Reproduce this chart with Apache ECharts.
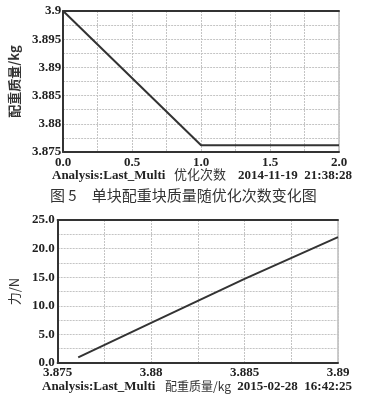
<!DOCTYPE html>
<html><head><meta charset="utf-8">
<script src="https://cdn.jsdelivr.net/npm/echarts@6/dist/echarts.min.js"></script>
<style>html,body{margin:0;padding:0;background:#fff}#c{width:370px;height:400px}</style>
</head><body><div id="c"></div>
<script>
// Chart 1: mass vs optimisation iterations
const iterX = [0.0, 1.0, 2.0];
const massY = [3.9, 3.8762, 3.8762];
// Chart 2: force vs mass
const massX = [3.8761, 3.880, 3.885, 3.890];
const forceY = [1.0, 7.0, 14.7, 22.0];

const caption = '图 5　单块配重块质量随优化次数变化图';
const foot1 = ['Analysis:Last_Multi', '优化次数', '2014-11-19  21:38:28'];
const foot2 = ['Analysis:Last_Multi', '配重质量/kg', '2015-02-28  16:42:25'];
const yName1 = '配重质量/kg';
const yName2 = '力/N';

const serif = '"Liberation Serif","DejaVu Serif",serif';
const cjk = '"Noto Sans CJK SC",sans-serif';
const lblStyle = {fontFamily: serif, fontWeight: 'bold', fontSize: 13, color: '#222'};
const gridLine = {show: true, lineStyle: {color: '#c4c4c4', width: 1, type: [2, 1]}};
const axisLineDark = {show: true, lineStyle: {color: '#333', width: 2}};

const chart = echarts.init(document.getElementById('c'), null, {renderer: 'canvas'});
chart.setOption({
  animation: false,
  backgroundColor: '#fff',
  grid: [
    {left: 58, top: 11, width: 281, height: 141, show: true, borderColor: '#999', borderWidth: 1},
    {left: 57, top: 220, width: 281, height: 143, show: true, borderColor: '#999', borderWidth: 1}
  ],
  xAxis: [
    {gridIndex: 0, type: 'value', min: 0, max: 2, interval: 0.5,
     axisLine: axisLineDark, axisTick: {show: false},
     axisLabel: Object.assign({margin: 4, formatter: v => v.toFixed(1)}, lblStyle),
     splitLine: gridLine, minorTick: {show: false, splitNumber: 2}, minorSplitLine: gridLine},
    {gridIndex: 0, type: 'value', min: 0, max: 2, position: 'top',
     axisLine: axisLineDark, axisTick: {show: false}, axisLabel: {show: false}, splitLine: {show: false}},
    {gridIndex: 1, type: 'value', min: 3.875, max: 3.89, interval: 0.005,
     axisLine: axisLineDark, axisTick: {show: false},
     axisLabel: Object.assign({margin: 3}, lblStyle),
     splitLine: gridLine, minorTick: {show: false, splitNumber: 2}, minorSplitLine: gridLine},
    {gridIndex: 1, type: 'value', min: 3.875, max: 3.89, position: 'top',
     axisLine: axisLineDark, axisTick: {show: false}, axisLabel: {show: false}, splitLine: {show: false}}
  ],
  yAxis: [
    {gridIndex: 0, type: 'value', min: 3.875, max: 3.9, interval: 0.005,
     axisLine: axisLineDark, axisTick: {show: false},
     axisLabel: Object.assign({margin: 2}, lblStyle),
     splitLine: gridLine, minorTick: {show: false, splitNumber: 2}, minorSplitLine: gridLine,
     name: yName1, nameLocation: 'middle', nameGap: 41, nameRotate: 90,
     nameTextStyle: {fontFamily: cjk, fontSize: 13, fontWeight: 'bold', color: '#333'}},
    {gridIndex: 1, type: 'value', min: 0, max: 25, interval: 5,
     axisLine: axisLineDark, axisTick: {show: false},
     axisLabel: Object.assign({margin: 3, formatter: v => v.toFixed(1)}, lblStyle),
     splitLine: gridLine, minorTick: {show: false, splitNumber: 2}, minorSplitLine: gridLine,
     name: yName2, nameLocation: 'middle', nameGap: 36, nameRotate: 90,
     nameTextStyle: {fontFamily: cjk, fontSize: 13, color: '#333'}}
  ],
  series: [
    {type: 'line', xAxisIndex: 0, yAxisIndex: 0, data: iterX.map((x, i) => [x, massY[i]]),
     showSymbol: false, lineStyle: {color: '#333', width: 2}},
    {type: 'line', xAxisIndex: 2, yAxisIndex: 1, data: massX.map((x, i) => [x, forceY[i]]),
     showSymbol: false, lineStyle: {color: '#333', width: 2}}
  ],
  graphic: [
    {type: 'text', left: 52, top: 169, style: {text: foot1[0], font: 'bold 13px ' + serif, fill: '#222'}},
    {type: 'text', left: 174, top: 168, style: {text: foot1[1], font: '13px ' + cjk, fill: '#333'}},
    {type: 'text', right: 18, top: 169, style: {text: foot1[2], font: 'bold 13px ' + serif, fill: '#222'}},
    {type: 'text', left: 50, top: 188, style: {text: caption, font: '15px ' + cjk, fill: '#333'}},
    {type: 'text', left: 42, top: 380, style: {text: foot2[0], font: 'bold 13px ' + serif, fill: '#222'}},
    {type: 'text', left: 165, top: 380, style: {text: foot2[1], font: '12px ' + cjk, fill: '#333'}},
    {type: 'text', right: 18, top: 380, style: {text: foot2[2], font: 'bold 13px ' + serif, fill: '#222'}}
  ]
});
</script></body></html>
